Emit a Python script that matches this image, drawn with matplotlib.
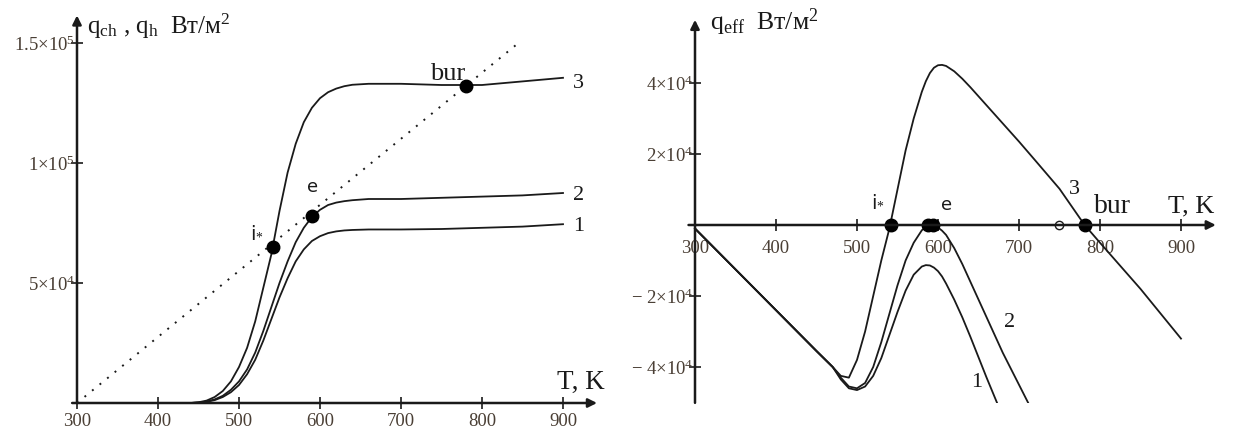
import numpy as np
import matplotlib
matplotlib.use("Agg")
import matplotlib.pyplot as plt
from matplotlib.ticker import FixedLocator, FixedFormatter

plt.rcParams['font.family'] = ['Liberation Serif', 'DejaVu Serif']
plt.rcParams['mathtext.fontset'] = 'custom'
plt.rcParams['mathtext.rm'] = 'Liberation Serif'
plt.rcParams['mathtext.it'] = 'Liberation Serif:italic'
plt.rcParams['mathtext.bf'] = 'Liberation Serif:bold'

# ---------------- data ----------------
# panel a: q_ch curves 1,2,3 and heat-loss line q_h
T_a = [440, 450, 460, 470, 480, 490, 500, 510, 520, 530, 540, 550, 560, 570,
       580, 590, 600, 610, 620, 630, 640, 660, 700, 750, 800, 850, 900]
q_a1 = [0, 150, 500, 1200, 2500, 4500, 7500, 12000, 18000, 26000, 35000, 44000,
        52000, 59000, 64000, 67500, 69500, 70800, 71500, 71900, 72100, 72300,
        72300, 72500, 73000, 73500, 74500]
q_a2 = [0, 200, 600, 1500, 3000, 5500, 9000, 14000, 21000, 30000, 40000, 50000,
        59000, 67000, 73000, 77500, 80500, 82500, 83500, 84100, 84500, 85000,
        85000, 85500, 86000, 86500, 87500]
q_a3 = [0, 300, 1000, 2500, 5000, 9000, 15000, 23000, 34000, 48000, 62000, 80000,
        96000, 108000, 117000, 123000, 127000, 129500, 131000, 132000, 132600,
        133000, 133000, 132500, 132500, 134000, 135500]
T_loss = [300, 845]
q_loss = [0, 150000]
pts_a_T = [542, 590, 780]
pts_a_q = [65000, 78000, 132000]

# panel b: q_eff curves 1,2,3
T_b = [300, 350, 400, 450, 470, 480, 490, 500, 510, 520, 530, 540, 550, 560, 570,
       580, 585, 590, 595, 600, 605, 610, 620, 630, 640, 660, 680, 700, 720, 750,
       781, 800, 850, 900]
q_b1 = [-1000, -12500, -24000, -35500, -40000, -43500, -46000, -46500, -45500,
        -42500, -37500, -31000, -24500, -18500, -14000, -11700, -11300, -11400,
        -12000, -13000, -14500, -16500, -21000, -26000, -31500, -43000, -54000,
        np.nan, np.nan, np.nan, np.nan, np.nan, np.nan, np.nan]
q_b2 = [-1000, -12500, -24000, -35500, -40000, -43000, -45500, -46000, -44500,
        -40000, -33000, -25000, -17000, -10000, -5000, -1500, -500, 0, -200,
        -700, -1600, -2800, -6500, -11000, -16000, -26000, -36000, -45000, -54000,
        np.nan, np.nan, np.nan, np.nan, np.nan]
q_b3 = [-1000, -12500, -24000, -35500, -40000, -42500, -43000, -38000, -30000,
        -20000, -10000, -1000, 10000, 21000, 30000, 37500, 40500, 42800, 44300,
        45000, 45100, 44800, 43300, 41200, 38800, 33700, 28600, 23500, 18200,
        10200, 0, -5000, -18000, -32000]
pts_b_T = [542, 588, 594, 781]
pts_b_q = [0, 0, 0, 0]
open_b_T = [749]
open_b_q = [0]

ticks_T = [300, 400, 500, 600, 700, 800, 900]
ticks_a_q = [50000, 100000, 150000]
ticks_a_lbl = [r"$5{\times}10^{4}$", r"$1{\times}10^{5}$", r"$1.5{\times}10^{5}$"]
ticks_b_q = [-40000, -20000, 20000, 40000]
ticks_b_lbl = [r"$-\ 4{\times}10^{4}$", r"$-\ 2{\times}10^{4}$",
               r"$2{\times}10^{4}$", r"$4{\times}10^{4}$"]

# ---------------- layout ----------------
W, H = 1234, 430
fig = plt.figure(figsize=(W / 100, H / 100), dpi=100)

def add_axes_px(l, r, t, b):
    return fig.add_axes([l / W, 1 - b / H, (r - l) / W, (b - t) / H])

INK = '#1a1a1a'
LBL = '#4a3f35'
PXK = 0.81  # pixels per K

# panel a: T=300 at px 77, q=0 at px 403, 120 px per 5e4
axa = add_axes_px(60, 620, 5, 425)
axa.set_xlim(300 + (60 - 77) / PXK, 300 + (620 - 77) / PXK)
axa.set_ylim((403 - 425) * 5e4 / 120, (403 - 5) * 5e4 / 120)

# panel b: T=300 at px 695, q=0 at px 225, 71 px per 2e4
axb = add_axes_px(640, 1234, 5, 403)
axb.set_xlim(300 + (640 - 695) / PXK, 300 + (1234 - 695) / PXK)
axb.set_ylim((225 - 403) * 2e4 / 71, (225 - 5) * 2e4 / 71)

for ax in (axa, axb):
    ax.patch.set_alpha(0)
    for s in ax.spines.values():
        s.set_visible(False)
    ax.spines['left'].set_position(('data', 300))
    ax.spines['bottom'].set_position(('data', 0))
    ax.xaxis.set_major_locator(FixedLocator(ticks_T))
    ax.xaxis.set_major_formatter(FixedFormatter([str(t) for t in ticks_T]))
    ax.tick_params(direction='inout', length=9, width=1.2, color=INK,
                   labelsize=13.5, labelcolor=LBL)
    ax.tick_params(axis='y', pad=-3)

axa.tick_params(axis='x', pad=3)
axb.tick_params(axis='x', pad=6)

axa.yaxis.set_major_locator(FixedLocator(ticks_a_q))
axa.yaxis.set_major_formatter(FixedFormatter(ticks_a_lbl))
axb.yaxis.set_major_locator(FixedLocator(ticks_b_q))
axb.yaxis.set_major_formatter(FixedFormatter(ticks_b_lbl))

arrow = dict(arrowstyle='-|>', lw=1.8, color=INK, mutation_scale=13,
             shrinkA=0, shrinkB=0)
# axes lines with arrows
axa.annotate('', xy=(942, 0), xytext=(294, 0), arrowprops=arrow)
axa.annotate('', xy=(300, 161500), xytext=(300, 0), arrowprops=arrow)
axb.annotate('', xy=(943, 0), xytext=(292, 0), arrowprops=arrow)
axb.annotate('', xy=(300, 57800), xytext=(300, -50100), arrowprops=arrow)

# ---------------- panel a ----------------
lw = 1.3
axa.plot(T_loss, q_loss, color=INK, lw=1.4, ls=(0, (1, 4)))
for q in (q_a1, q_a2, q_a3):
    axa.plot(T_a, q, color=INK, lw=lw)
axa.plot(pts_a_T, pts_a_q, 'o', color='black', ms=9)

axa.text(312, 157000, r"q$_{\rm ch}$ , q$_{\rm h}$  Вт/м$^{2}$", fontsize=18,
         ha='left', va='center', color=INK)
axa.text(893, 6000, "T, K", fontsize=19.5, ha='left', va='baseline', color=INK)
axa.text(758, 134500, "bur", fontsize=19, ha='center', va='baseline', color=INK)
axa.text(912, 133000, "3", fontsize=16, ha='left', va='center', color=INK)
axa.text(912, 86500, "2", fontsize=16, ha='left', va='center', color=INK)
axa.text(912, 73500, "1", fontsize=16, ha='left', va='center', color=INK)
axa.text(522, 71000, r"i$_{*}$", fontsize=14, ha='center', va='center',
         color=INK, family=['DejaVu Sans'])
axa.text(591, 90000, "e", fontsize=13, ha='center', va='center', color=INK,
         family=['DejaVu Sans'])

# ---------------- panel b ----------------
for q in (q_b1, q_b2, q_b3):
    axb.plot(T_b, q, color=INK, lw=lw)
axb.plot(pts_b_T, pts_b_q, 'o', color='black', ms=9)
axb.plot(open_b_T, open_b_q, 'o', mfc='white', mec=INK, ms=6, mew=1)

axb.text(318, 57200, r"q$_{\rm eff}$  Вт/м$^{2}$", fontsize=18.5,
         ha='left', va='center', color=INK)
axb.text(884, 3400, "T, K", fontsize=19, ha='left', va='baseline', color=INK)
axb.text(793, 3400, "bur", fontsize=20, ha='left', va='baseline', color=INK)
axb.text(769, 9900, "3", fontsize=16, ha='center', va='center', color=INK)
axb.text(688, -27600, "2", fontsize=16, ha='center', va='center', color=INK)
axb.text(648, -44500, "1", fontsize=16, ha='center', va='center', color=INK)
axb.text(526, 6500, r"i$_{*}$", fontsize=14, ha='center', va='center',
         color=INK, family=['DejaVu Sans'])
axb.text(610, 5600, "e", fontsize=13, ha='center', va='center', color=INK,
         family=['DejaVu Sans'])

fig.savefig("out.png", dpi=100)
